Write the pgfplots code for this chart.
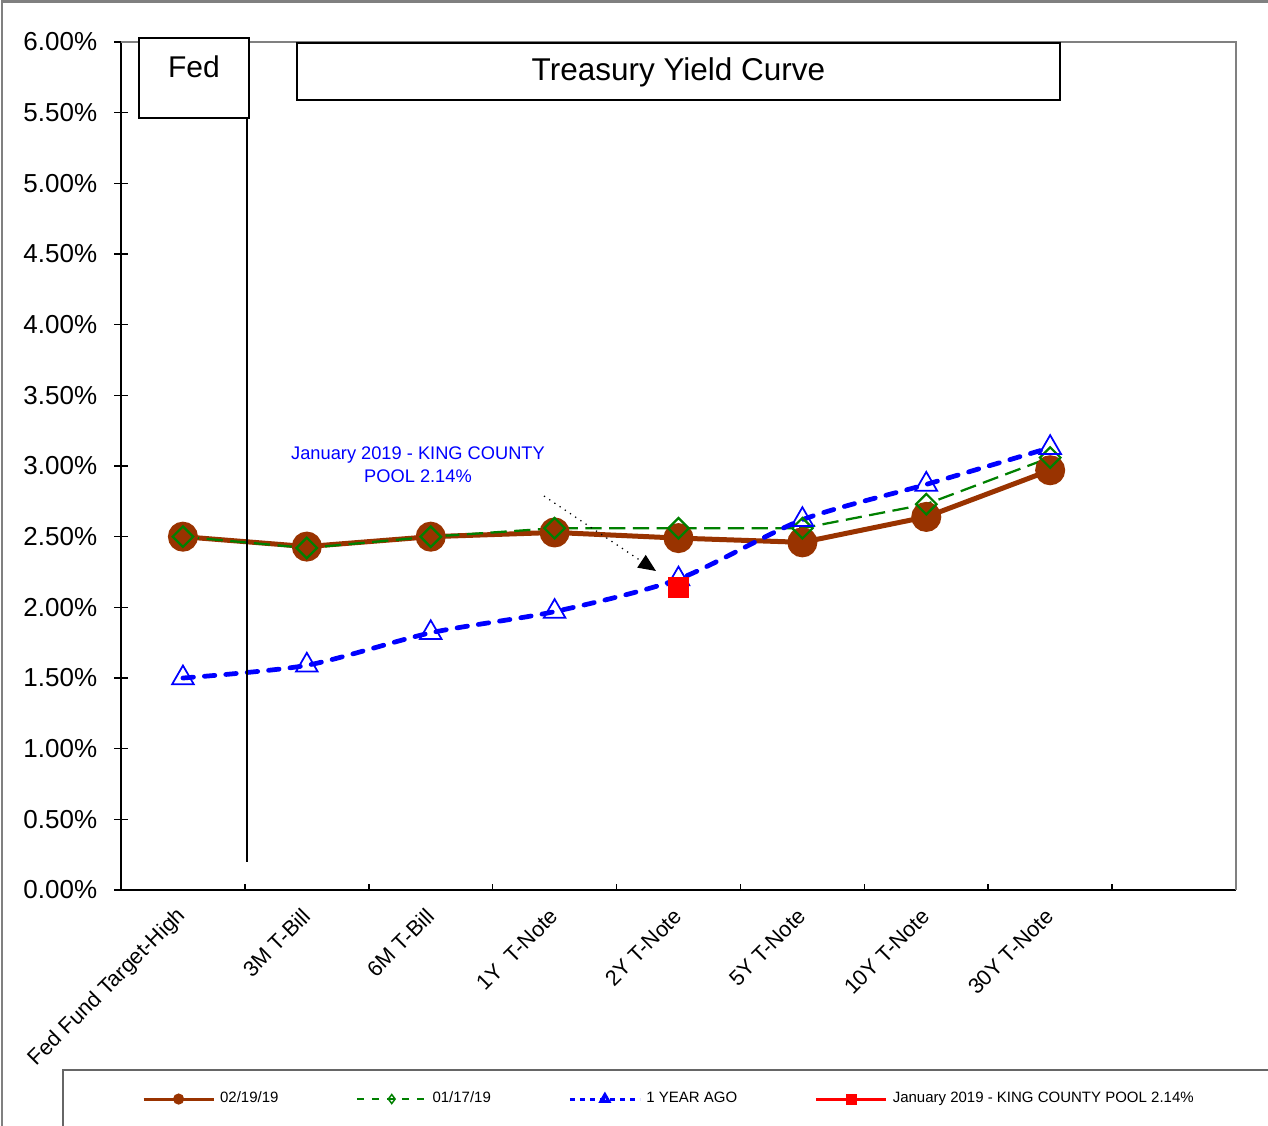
\documentclass[border=0pt]{standalone}
\usepackage{fontspec}
\setmainfont{Liberation Sans}
\usepackage{pgfplots}
\pgfplotsset{compat=1.18}
\usetikzlibrary{arrows.meta}
\definecolor{brownA}{RGB}{153,51,0}
\definecolor{greenA}{RGB}{0,128,0}
\begin{document}
\begin{tikzpicture}
\begin{axis}[
  at={(48.4pt,-356pt)}, anchor=south west,
  scale only axis, width=446pt, height=339.2pt,
  xmin=-0.5, xmax=8.5, ymin=0, ymax=6,
  clip=false,
  axis x line*=bottom, axis y line*=left,
  axis line style={black, line width=0.9pt},
  xtick={0,...,7},
  xticklabels={Fed Fund Target-High, 3M T-Bill, 6M T-Bill, 1Y~ T-Note, 2Y T-Note, 5Y T-Note, 10Y T-Note, 30Y T-Note},
  major x tick style={draw=none},
  minor xtick={-0.5,0.5,...,8.5},
  minor tick length=2.4pt,
  ytick={0,0.5,...,6},
  tick align=inside,
  major tick length=5.6pt,
  ytick style={xshift=-2.8pt, black, line width=0.6pt},
  minor x tick style={black, line width=0.6pt},
  /pgf/number format/assume math mode=true,
  yticklabel={\pgfmathprintnumber[fixed,fixed zerofill,precision=2]{\tick}\%},
  yticklabel style={font=\fontsize{10.4}{12}\selectfont, xshift=-6pt},
  xticklabel style={font=\fontsize{8.7}{10.5}\selectfont, yshift=-9pt, xshift=0pt, rotate=45, anchor=east, inner sep=0pt},
  legend style={at={(0.0185,-0.2465)}, anchor=west, draw=none, fill=none,
    font=\fontsize{6}{7}\selectfont, inner sep=0pt,
    /tikz/every even column/.append style={column sep=29pt}},
  legend columns=4,
  legend cell align=left,
  legend image code/.code={\draw[mark repeat=2,mark phase=2,#1] plot coordinates {(0pt,0pt) (14pt,0pt) (28pt,0pt)};},
]
\addplot[brownA, line width=2pt, mark=*, mark size=5pt, forget plot]
  coordinates {(0,2.50)(1,2.43)(2,2.50)(3,2.53)(4,2.49)(5,2.46)(6,2.64)(7,2.97)};
\addplot[greenA, line width=0.9pt, dash pattern=on 6.5pt off 3pt, mark=square, mark size=2.9pt,
  mark options={solid, rotate=45, fill=white, line width=0.9pt}, forget plot]
  coordinates {(0,2.50)(1,2.42)(2,2.50)(3,2.56)(4,2.56)(5,2.56)(6,2.73)(7,3.06)};
\addplot[blue, line width=1.9pt, dash pattern=on 4.2pt off 4.4pt, line cap=round, smooth, tension=0.45,
  mark=triangle, mark size=5pt, mark options={solid, fill=white, line width=0.7pt}, forget plot]
  coordinates {(0,1.50)(1,1.59)(2,1.82)(3,1.97)(4,2.20)(5,2.62)(6,2.87)(7,3.13)};
\addplot[red, only marks, mark=square*, mark size=4pt, forget plot]
  coordinates {(4,2.14)};

\addlegendimage{brownA, line width=1.2pt, mark=*, mark size=1.6pt}
\addlegendentry{02/19/19}
\addlegendimage{greenA, line width=0.6pt, dash pattern=on 3pt off 3pt, mark=diamond, mark size=1.8pt, mark options={solid, fill=white}}
\addlegendentry{01/17/19}
\addlegendimage{blue, line width=1.2pt, dash pattern=on 2pt off 2pt, mark=triangle, mark size=1.8pt, mark options={solid, fill=white}}
\addlegendentry{1 YEAR AGO}
\addlegendimage{red, line width=1.2pt, mark=square*, mark size=1.6pt}
\addlegendentry{January 2019 - KING COUNTY POOL 2.14\%}

\draw[gray, line width=0.9pt] (rel axis cs:0,1) -- (rel axis cs:1,1) -- (rel axis cs:1,0);
\end{axis}
\begin{scope}[x=0.4pt,y=-0.4pt]
  \draw[black, line width=0.7pt] (247,38) -- (247,862);
  \draw[black, line width=0.8pt, fill=white] (139,38) rectangle (249,118);
  \node[font=\fontsize{12}{14}\selectfont] at (194,67) {Fed};
  \draw[black, line width=0.9pt, fill=white] (297,43) rectangle (1060,100);
  \node[font=\fontsize{12.6}{15}\selectfont] at (678.5,72) {Treasury Yield Curve};
  \node[blue, font=\fontsize{7.3}{9.2}\selectfont, align=center] at (418,465) {January 2019 - KING COUNTY\\POOL 2.14\%};
  \draw[black, dotted, line width=0.5pt, -{Triangle[length=7pt,width=6pt]}] (544,496) -- (656,571);
  \draw[gray, line width=0.8pt] (2,1200) -- (2,1.5) -- (1300,1.5);
  \draw[black!60, line width=0.8pt] (63,1200) -- (63,1070) -- (1300,1070);
  \pgfresetboundingbox
  \path[use as bounding box] (0,0) rectangle (1268,1126);
\end{scope}
\end{tikzpicture}
\end{document}
